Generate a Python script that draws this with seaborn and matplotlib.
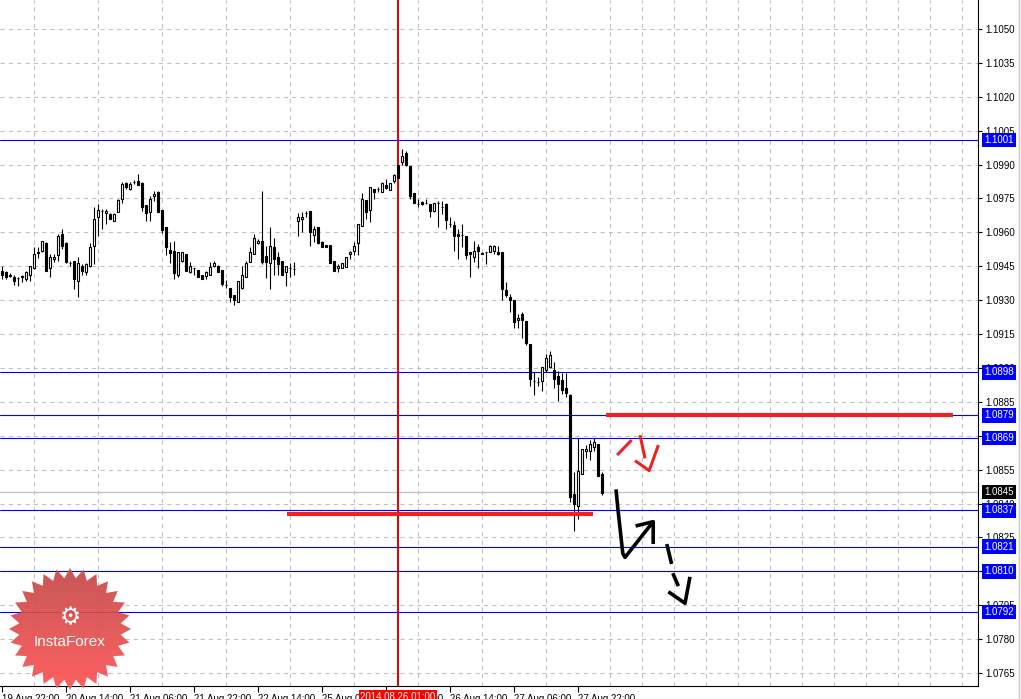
import numpy as np
import matplotlib
matplotlib.use("Agg")
import matplotlib.pyplot as plt
from matplotlib.patches import Polygon
from matplotlib.colors import LinearSegmentedColormap
import seaborn as sns

# EURUSD H1, one candle per hour (bar 0 = 19 Aug 22:00)
opens = [1.09431, 1.09424, 1.09410, 1.09402, 1.09398, 1.09405, 1.09395, 1.09412, 1.09442, 1.09512,
         1.09519, 1.09552, 1.09442, 1.09480, 1.09502, 1.09591, 1.09553, 1.09466, 1.09472, 1.09383,
         1.09451, 1.09424, 1.09451, 1.09541, 1.09669, 1.09695, 1.09685, 1.09683, 1.09651, 1.09692,
         1.09749, 1.09819, 1.09790, 1.09822, 1.09827, 1.09819, 1.09723, 1.09691, 1.09761, 1.09780,
         1.09701, 1.09622, 1.09522, 1.09519, 1.09410, 1.09472, 1.09505, 1.09424, 1.09442, 1.09434,
         1.09412, 1.09405, 1.09410, 1.09451, 1.09453, 1.09434, 1.09366, 1.09354, 1.09325, 1.09292,
         1.09354, 1.09402, 1.09471, 1.09505, 1.09552, 1.09562, 1.09494, 1.09465, 1.09534, 1.09490,
         1.09475, 1.09424, 1.09442, 1.09436, 1.09651, 1.09658, 1.09685, 1.09695, 1.09590, 1.09622,
         1.09559, 1.09544, 1.09544, 1.09472, 1.09442, 1.09442, 1.09446, 1.09505, 1.09519, 1.09552,
         1.09629, 1.09742, 1.09700, 1.09790, 1.09790, 1.09778, 1.09811, 1.09787, 1.09827, 1.09900,
         1.09910, 1.09951, 1.09893, 1.09773, 1.09724, 1.09735, 1.09732, 1.09724, 1.09695, 1.09732,
         1.09710, 1.09724, 1.09636, 1.09632, 1.09593, 1.09590, 1.09585, 1.09512, 1.09490, 1.09534,
         1.09509, 1.09512, 1.09512, 1.09519, 1.09512, 1.09512, 1.09347, 1.09314, 1.09300, 1.09212,
         1.09237, 1.09208, 1.09104, 1.08942, 1.08939, 1.08942, 1.08990, 1.09005, 1.08993, 1.08964,
         1.08945, 1.08912, 1.08880, 1.08444, 1.08389, 1.08532, 1.08631, 1.08631, 1.08651, 1.08664,
         1.08532]
highs = [1.09451, 1.09427, 1.09421, 1.09410, 1.09402, 1.09412, 1.09427, 1.09453, 1.09534, 1.09534,
         1.09563, 1.09556, 1.09505, 1.09505, 1.09593, 1.09614, 1.09556, 1.09475, 1.09475, 1.09490,
         1.09461, 1.09465, 1.09552, 1.09710, 1.09724, 1.09702, 1.09702, 1.09685, 1.09685, 1.09749,
         1.09822, 1.09822, 1.09822, 1.09831, 1.09860, 1.09822, 1.09723, 1.09761, 1.09783, 1.09783,
         1.09701, 1.09622, 1.09556, 1.09563, 1.09512, 1.09512, 1.09505, 1.09471, 1.09442, 1.09434,
         1.09412, 1.09431, 1.09468, 1.09475, 1.09456, 1.09434, 1.09388, 1.09354, 1.09325, 1.09383,
         1.09453, 1.09475, 1.09534, 1.09593, 1.09571, 1.09783, 1.09541, 1.09622, 1.09574, 1.09512,
         1.09475, 1.09453, 1.09465, 1.09471, 1.09685, 1.09688, 1.09695, 1.09695, 1.09626, 1.09622,
         1.09562, 1.09544, 1.09544, 1.09472, 1.09461, 1.09465, 1.09490, 1.09519, 1.09556, 1.09639,
         1.09773, 1.09742, 1.09802, 1.09790, 1.09802, 1.09822, 1.09834, 1.09819, 1.09856, 1.09900,
         1.09969, 1.09959, 1.09893, 1.09773, 1.09746, 1.09739, 1.09749, 1.09724, 1.09732, 1.09739,
         1.09739, 1.09732, 1.09670, 1.09651, 1.09614, 1.09636, 1.09585, 1.09512, 1.09563, 1.09549,
         1.09512, 1.09512, 1.09544, 1.09544, 1.09541, 1.09512, 1.09380, 1.09329, 1.09300, 1.09237,
         1.09249, 1.09208, 1.09104, 1.08983, 1.08961, 1.09005, 1.09064, 1.09075, 1.09027, 1.08986,
         1.08979, 1.08979, 1.08883, 1.08540, 1.08688, 1.08643, 1.08661, 1.08680, 1.08688, 1.08664,
         1.08540]
lows = [1.09395, 1.09392, 1.09401, 1.09366, 1.09363, 1.09380, 1.09383, 1.09383, 1.09439, 1.09486,
        1.09512, 1.09430, 1.09402, 1.09471, 1.09475, 1.09527, 1.09465, 1.09453, 1.09351, 1.09313,
        1.09410, 1.09412, 1.09448, 1.09461, 1.09582, 1.09614, 1.09636, 1.09658, 1.09651, 1.09688,
        1.09732, 1.09790, 1.09787, 1.09812, 1.09809, 1.09695, 1.09651, 1.09651, 1.09739, 1.09688,
        1.09597, 1.09500, 1.09465, 1.09392, 1.09402, 1.09471, 1.09430, 1.09421, 1.09410, 1.09402,
        1.09392, 1.09395, 1.09410, 1.09446, 1.09424, 1.09363, 1.09354, 1.09292, 1.09278, 1.09292,
        1.09351, 1.09402, 1.09468, 1.09505, 1.09549, 1.09461, 1.09398, 1.09351, 1.09410, 1.09410,
        1.09410, 1.09363, 1.09402, 1.09410, 1.09582, 1.09600, 1.09670, 1.09541, 1.09556, 1.09549,
        1.09534, 1.09534, 1.09465, 1.09431, 1.09424, 1.09442, 1.09446, 1.09480, 1.09500, 1.09502,
        1.09629, 1.09658, 1.09644, 1.09746, 1.09778, 1.09778, 1.09790, 1.09787, 1.09817, 1.09839,
        1.09900, 1.09893, 1.09746, 1.09732, 1.09710, 1.09720, 1.09724, 1.09666, 1.09691, 1.09622,
        1.09680, 1.09617, 1.09622, 1.09519, 1.09480, 1.09534, 1.09480, 1.09402, 1.09471, 1.09442,
        1.09505, 1.09461, 1.09512, 1.09505, 1.09502, 1.09300, 1.09314, 1.09249, 1.09178, 1.09175,
        1.09134, 1.09102, 1.08921, 1.08880, 1.08921, 1.08897, 1.08983, 1.09001, 1.08912, 1.08853,
        1.08887, 1.08872, 1.08407, 1.08277, 1.08330, 1.08532, 1.08602, 1.08591, 1.08631, 1.08522,
        1.08439]
closes = [1.09410, 1.09402, 1.09408, 1.09383, 1.09398, 1.09404, 1.09424, 1.09451, 1.09505, 1.09509,
          1.09560, 1.09431, 1.09490, 1.09492, 1.09585, 1.09541, 1.09468, 1.09465, 1.09392, 1.09464,
          1.09431, 1.09462, 1.09534, 1.09661, 1.09701, 1.09695, 1.09695, 1.09661, 1.09683, 1.09742,
          1.09812, 1.09800, 1.09812, 1.09822, 1.09809, 1.09710, 1.09685, 1.09749, 1.09771, 1.09691,
          1.09612, 1.09534, 1.09509, 1.09421, 1.09512, 1.09512, 1.09431, 1.09451, 1.09442, 1.09402,
          1.09392, 1.09424, 1.09446, 1.09464, 1.09424, 1.09370, 1.09366, 1.09314, 1.09300, 1.09383,
          1.09412, 1.09465, 1.09512, 1.09574, 1.09562, 1.09471, 1.09471, 1.09541, 1.09480, 1.09461,
          1.09410, 1.09453, 1.09442, 1.09436, 1.09670, 1.09670, 1.09685, 1.09600, 1.09614, 1.09553,
          1.09534, 1.09534, 1.09465, 1.09431, 1.09453, 1.09465, 1.09490, 1.09512, 1.09541, 1.09639,
          1.09749, 1.09692, 1.09802, 1.09780, 1.09790, 1.09819, 1.09798, 1.09819, 1.09852, 1.09841,
          1.09940, 1.09896, 1.09761, 1.09732, 1.09724, 1.09724, 1.09732, 1.09695, 1.09732, 1.09732,
          1.09710, 1.09654, 1.09636, 1.09582, 1.09582, 1.09590, 1.09502, 1.09505, 1.09519, 1.09519,
          1.09505, 1.09512, 1.09541, 1.09541, 1.09505, 1.09351, 1.09322, 1.09300, 1.09205, 1.09222,
          1.09212, 1.09109, 1.08950, 1.08942, 1.08939, 1.09005, 1.09045, 1.09057, 1.08950, 1.08931,
          1.08902, 1.08891, 1.08429, 1.08399, 1.08543, 1.08643, 1.08643, 1.08665, 1.08673, 1.08522,
          1.08448]

time_ticks = [0, 16, 32, 48, 64, 80, 96, 112, 128, 144]
time_labels = ['19 Aug 22:00', '20 Aug 14:00', '21 Aug 06:00', '21 Aug 22:00', '22 Aug 14:00',
               '25 Aug 06:00', '25 Aug 22:00', '26 Aug 14:00', '27 Aug 06:00', '27 Aug 22:00']
price_ticks = [1.0765, 1.0780, 1.0795, 1.0810, 1.0825, 1.0840, 1.0855, 1.0870, 1.0885, 1.0900,
               1.0915, 1.0930, 1.0945, 1.0960, 1.0975, 1.0990, 1.1005, 1.1020, 1.1035, 1.1050]

levels = [1.1001, 1.0898, 1.0879, 1.0869, 1.0837, 1.0821, 1.0810, 1.0792]
bid = 1.0845
cursor_bar = 99
cursor_text = '2014.08.26 01:00'

# hand drawn marks (bar index, price)
red_lines = [(151, 237.75, 1.0879), (71.25, 147.75, 1.08356)]
black_strokes = [
    ([153.5, 154.0, 155.2, 155.75, 162.8], [1.08463, 1.08372, 1.08180, 1.08162, 1.08320]),
    ([158.4, 162.8, 162.8], [1.08301, 1.08320, 1.08221]),
    ([166.2, 167.4], [1.08221, 1.08133]),
    ([167.7, 169.1], [1.08092, 1.08035]),
    ([166.6, 170.75, 172.0], [1.08010, 1.07959, 1.08076]),
]
red_strokes = [
    ([153.8, 157.4], [1.08615, 1.08681]),
    ([159.5, 160.75], [1.08703, 1.08600]),
    ([158.25, 161.8, 164.1], [1.08590, 1.08546, 1.08659]),
]

sns.set_style("white")
plt.rcParams['font.family'] = ['Liberation Sans', 'DejaVu Sans']

fig = plt.figure(figsize=(10.21, 6.99), dpi=100)
ax = fig.add_axes([0, 13 / 699, 978 / 1021, 686 / 699])

o = np.array(opens)
h = np.array(highs)
l = np.array(lows)
c = np.array(closes)
idx = np.arange(len(o))

# level lines first, candles on top
for lv in levels:
    ax.axhline(lv, color='#0000FF', lw=0.8, zorder=2)
ax.axhline(bid, color='#C0C0C0', lw=0.9, zorder=2)
ax.axvline(cursor_bar, color='#DD0000', lw=1.4, zorder=2)

ax.vlines(idx, l, h, color='black', lw=0.8, zorder=3)
fill = np.where(c > o, 'white', 'black')
ax.bar(idx, np.abs(c - o), bottom=np.minimum(o, c), width=0.72, color=fill,
       edgecolor='black', linewidth=0.8, zorder=4)

for x0, x1, y in red_lines:
    ax.plot([x0, x1], [y, y], color='#EE2222', lw=3, solid_capstyle='butt', zorder=5)
for xs, ys in black_strokes:
    ax.plot(xs, ys, color='black', lw=2.6, solid_capstyle='butt', zorder=6)
for xs, ys in red_strokes:
    ax.plot(xs, ys, color='#EE2222', lw=2.2, solid_capstyle='butt', zorder=6)

ax.set_xlim(-0.5, 244)
ax.set_ylim(1.07593, 1.10628)

ax.yaxis.tick_right()
ax.set_yticks(price_ticks)
ax.set_yticklabels([f'{p:.4f}' for p in price_ticks])
ax.set_xticks(time_ticks)
ax.set_xticklabels(time_labels, ha='left')
ax.set_xticks(range(0, 241, 8), minor=True)
ax.tick_params(axis='y', which='major', direction='out', length=3, width=0.8, pad=2,
               labelsize=7, colors='black', right=True, left=False)
ax.tick_params(axis='x', which='major', direction='out', length=4, width=0.8, pad=1.5,
               labelsize=7, colors='black', bottom=True)
ax.tick_params(axis='x', which='minor', length=0)
ax.grid(axis='y', which='major', color='#C0C0C0', ls=(0, (4, 4)), lw=0.75)
ax.grid(axis='x', which='minor', color='#C0C0C0', ls=(0, (4, 4)), lw=0.75)
ax.grid(axis='x', which='major', visible=False)
for side in ['top', 'left']:
    ax.spines[side].set_visible(False)
for side in ['right', 'bottom']:
    ax.spines[side].set_color('black')
    ax.spines[side].set_linewidth(0.8)

# price tags on the scale
for lv in levels:
    ax.annotate(f'{lv:.4f}', xy=(1, lv), xycoords=('axes fraction', 'data'),
                xytext=(4.5, 0), textcoords='offset points', ha='left', va='center',
                fontsize=7, color='white', annotation_clip=False, zorder=10,
                bbox=dict(boxstyle='square,pad=0.22', fc='#0000FF', ec='none'))
ax.annotate(f'{bid:.4f}', xy=(1, bid), xycoords=('axes fraction', 'data'),
            xytext=(4.5, 0), textcoords='offset points', ha='left', va='center',
            fontsize=7, color='white', annotation_clip=False, zorder=10,
            bbox=dict(boxstyle='square,pad=0.22', fc='black', ec='none'))
ax.annotate(cursor_text, xy=(cursor_bar, 0), xycoords=('data', 'axes fraction'),
            xytext=(0, -4), textcoords='offset points', ha='center', va='top',
            fontsize=7, color='white', annotation_clip=False, zorder=10,
            bbox=dict(boxstyle='square,pad=0.15', fc='#FF0000', ec='none'))

# watermark badge, in pixel coordinates
ov = fig.add_axes([0, 0, 1, 1], zorder=20)
ov.patch.set_visible(False)
cx, cy = 70, 629
ang = np.linspace(-np.pi / 2, 1.5 * np.pi, 56, endpoint=False)
rad = np.where(np.arange(56) % 2 == 0, 61, 51)
star = Polygon(np.c_[cx + rad * np.cos(ang), cy + rad * np.sin(ang)], closed=True,
               fc='none', ec='none')
ov.add_patch(star)
badge = LinearSegmentedColormap.from_list('badge', ['#C44848', '#FF5252'])
im = ov.imshow(np.linspace(0, 1, 256)[:, None], extent=(cx - 62, cx + 62, cy + 62, cy - 62),
               cmap=badge, aspect='auto', alpha=0.92, zorder=1)
im.set_clip_path(star)
ov.text(cx, 617, '\u2699', color='white', fontsize=17, ha='center', va='center',
        family=['DejaVu Sans'], zorder=2)
ov.text(cx, 642, 'InstaForex', color='white', fontsize=11, ha='center', va='center', zorder=2)
ov.plot([1018.5, 1018.5], [0, 699], color='#C8C8C8', lw=1)
ov.set_xlim(0, 1021)
ov.set_ylim(699, 0)
ov.axis('off')

fig.savefig('out.png', dpi=100)
